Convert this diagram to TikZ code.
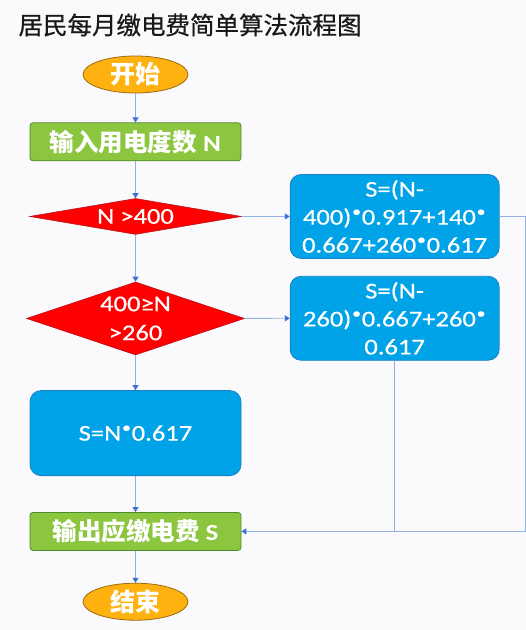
\documentclass[tikz,border=0pt]{standalone}
\usepackage{fontspec}
\setmainfont{Carlito}[FakeStretch=1.18]
\newfontfamily\formula{Carlito}[FakeStretch=1.18, FakeBold=0.5]
\newfontfamily\cjk{Noto Sans CJK SC}
\newfontfamily\cjktitle{Noto Sans CJK SC}[FakeBold=0.7]
\usetikzlibrary{arrows.meta}
\usetikzlibrary{shapes.geometric, positioning}
\definecolor{bgwhite}{HTML}{FAFAFC}
\definecolor{termfill}{HTML}{FFB20F}
\definecolor{termdraw}{HTML}{9C6A0C}
\definecolor{iofill}{HTML}{8CC63E}
\definecolor{iodraw}{HTML}{4D8B2E}
\definecolor{decfill}{HTML}{FF0000}
\definecolor{decdraw}{HTML}{B0101A}
\definecolor{procfill}{HTML}{00A3E8}
\definecolor{procdraw}{HTML}{1B7FC2}
\definecolor{linkblue}{HTML}{8FB2E3}
\definecolor{tipblue}{HTML}{3D6FD4}
\newcommand{\Mul}{\kern0.8pt\raisebox{0.36em}{\fontsize{15}{15}\selectfont•}\kern0.8pt}

\begin{document}
\begin{tikzpicture}[
    termbox/.style={ellipse, draw=termdraw, fill=termfill, line width=0.8pt, minimum width=105pt, minimum height=37pt, inner sep=0pt, text=white, font=\cjk\bfseries\fontsize{25}{25}\selectfont},
    iobox/.style={rectangle, rounded corners=3pt, draw=iodraw, fill=iofill, line width=0.8pt, minimum width=211pt, minimum height=38pt, inner sep=0pt, text=white, font=\fontsize{23}{24}\selectfont\bfseries},
    decbox/.style={diamond, draw=decdraw, fill=decfill, line width=0.5pt, inner sep=0pt, text=white, align=center, font=\formula\fontsize{22.5}{29}\selectfont},
    procbox/.style={rectangle, rounded corners=11pt, draw=procdraw, fill=procfill, line width=0.8pt, minimum width=209pt, minimum height=84pt, inner sep=0pt, text=white, align=center, font=\formula\fontsize{22.5}{28}\selectfont},
    link/.style={draw=linkblue, line width=0.8pt, -{Triangle[length=5pt, width=6pt, color=tipblue]}}
]
    \fill[bgwhite] (0,0) rectangle (526pt,-630pt);
    \useasboundingbox (0,0) rectangle (526pt,-630pt);

    % Define nodes
    \node[anchor=west, text=black!90, font=\cjktitle\fontsize{24.5}{26}\selectfont] (title) at (15pt,-25pt) {居民每月缴电费简单算法流程图};

    \node[termbox] (start) at (135.5pt,-74.5pt) {开始};
    \node[iobox, below=29pt of start] (input) {{\cjk\fontsize{24.5}{24}\selectfont 输入用电度数} N};
    \node[decbox, minimum width=212pt, minimum height=36pt, shape aspect=5.9, below=37pt of input] (big) {N >400};
    \node[decbox, minimum width=218pt, minimum height=73pt, shape aspect=3, below=47pt of big] (mid) {400≥N\\>260};
    \node[procbox, minimum width=211pt, minimum height=85pt, below=35pt of mid] (low) {S=N\Mul0.617};
    \node[iobox, below=36pt of low] (output) {{\cjk\fontsize{24.5}{24}\selectfont 输出应缴电费} S};
    \node[termbox, below=32pt of output] (stop) {结束};

    \node[procbox, right=48pt of big] (calcbig) {S=(N-\\400)\Mul0.917+140\Mul\\0.667+260\Mul0.617};
    \node[procbox, below=17pt of calcbig] (calcmid) {S=(N-\\260)\Mul0.667+260\Mul\\0.617};

    \coordinate (join) at (calcmid.south |- output.east);

    % Connect nodes with arrows
    \draw[link] (start) -- (input);
    \draw[link] (input) -- (big);
    \draw[link] (big) -- (mid);
    \draw[link] (mid) -- (low);
    \draw[link] (low) -- (output);
    \draw[link] (output) -- (stop);

    \draw[link] (big) -- (calcbig);
    \draw[link] (mid) -- (calcmid);

    \draw[link] (calcbig.east) -- ++(26pt,0) |- (output.east);
    \draw[draw=linkblue, line width=0.8pt] (calcmid.south) -- (join);
\end{tikzpicture}
\end{document}
